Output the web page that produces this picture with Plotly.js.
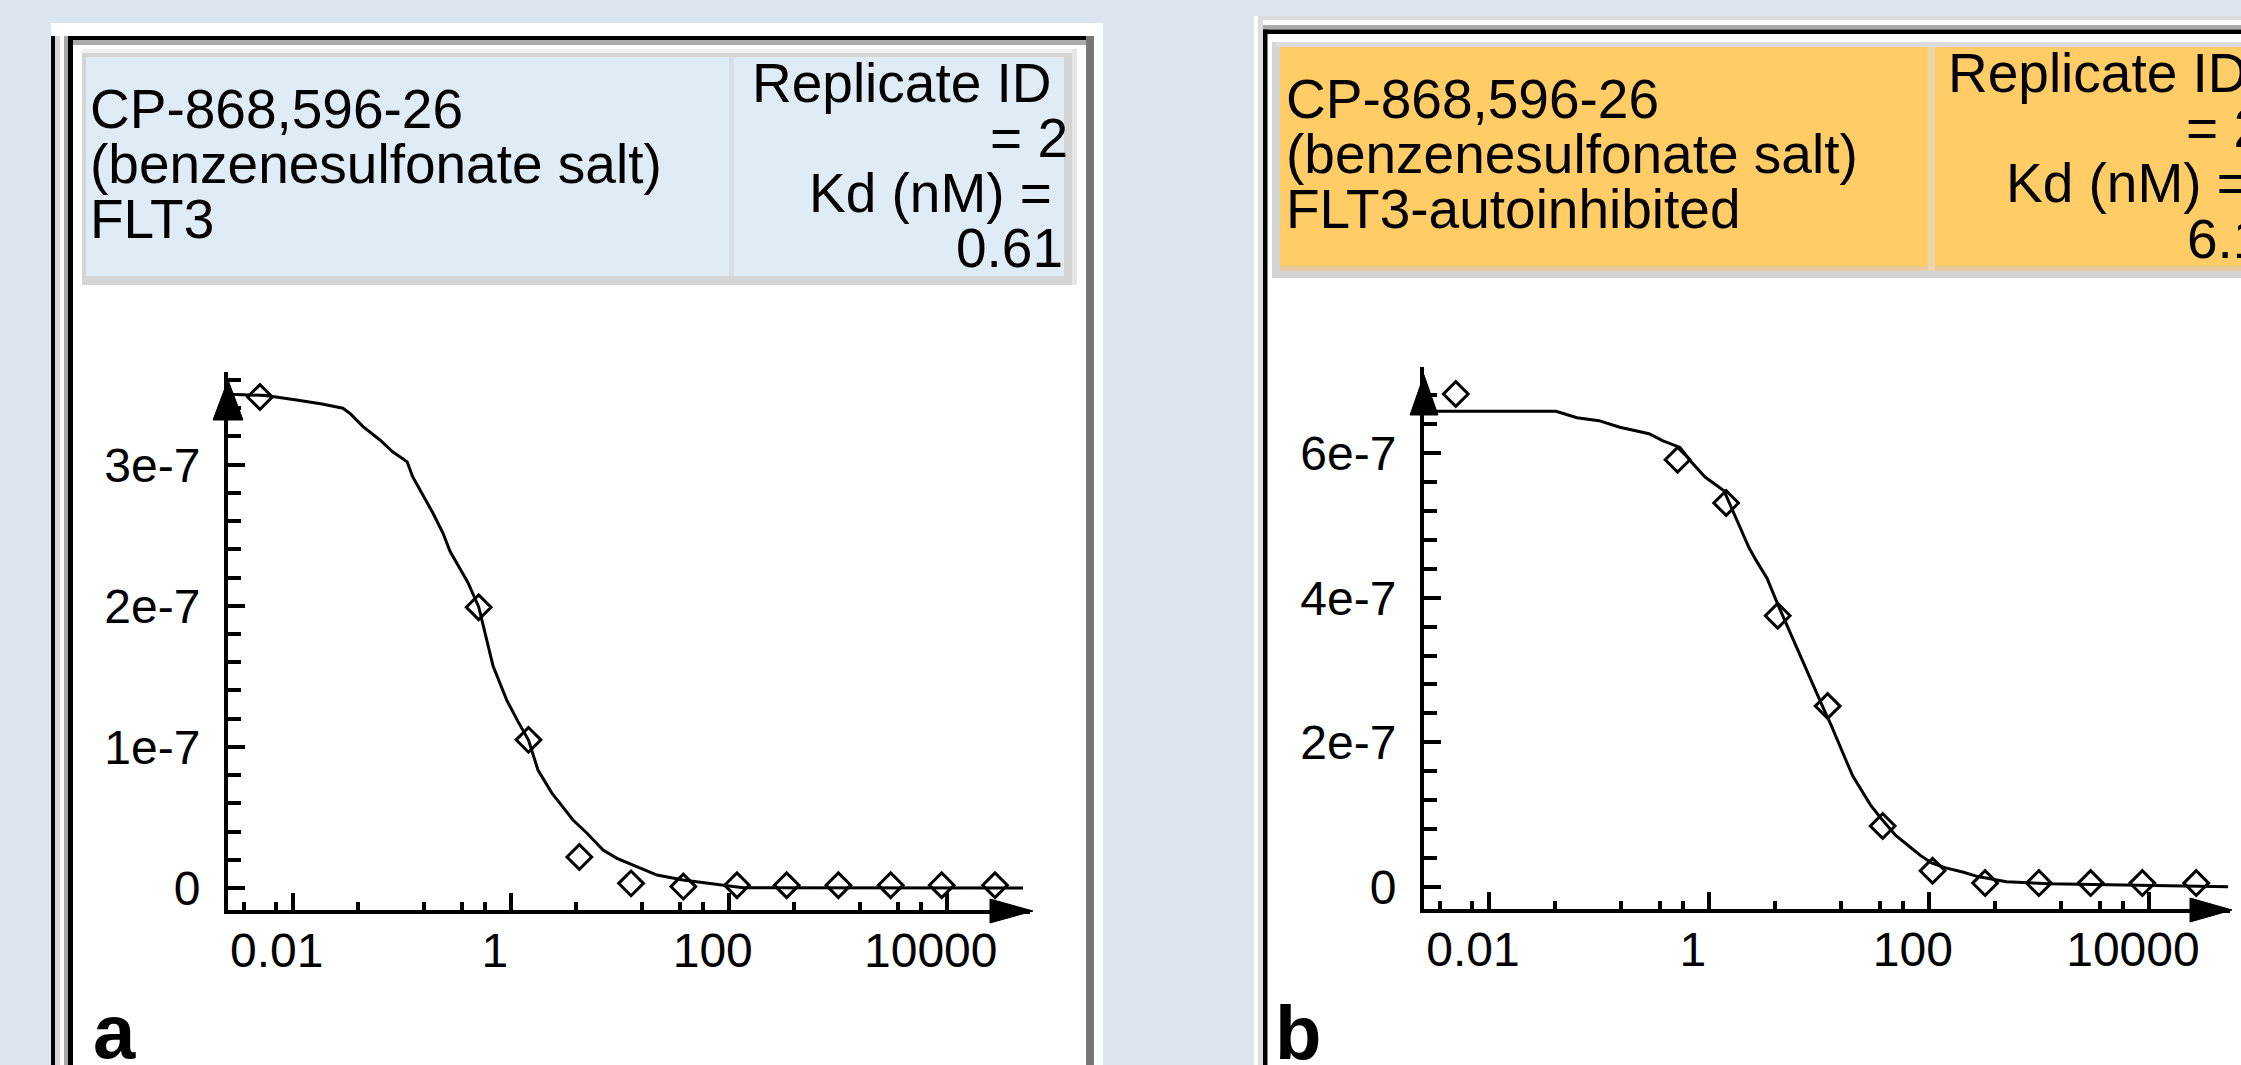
<!DOCTYPE html>
<html>
<head>
<meta charset="utf-8">
<script src="https://cdn.plot.ly/plotly-3.0.1.min.js"></script>
<style>
  html, body { margin: 0; padding: 0; background: #dce6f1; }
  #chart { width: 2241px; height: 1065px; }
</style>
</head>
<body>
<div id="chart"></div>
<script>
// ---------------- DATA ----------------
// Panel a : CP-868,596-26 (benzenesulfonate salt) vs FLT3
const a_titleLines = ["CP-868,596-26", "(benzenesulfonate salt)", "FLT3"];
const a_replicate = "2";
const a_kd = "0.61";
// measured points: concentration (nM) and signal
const a_pointConc = [0.005, 0.508, 1.455, 4.26, 12.7, 38.3, 119, 340, 1014, 3062, 8995, 27730];
const a_pointSignal = [3.48e-7, 1.99e-7, 1.05e-7, 0.22e-7, 0.033e-7, 0.01e-7, 0.02e-7, 0.02e-7, 0.02e-7, 0.02e-7, 0.02e-7, 0.02e-7];
// fitted curve as drawn (polyline vertices)
const a_curveConc = [0.00263, 0.00562, 0.01047, 0.01862, 0.02884, 0.03388, 0.04416, 0.0631, 0.0832, 0.1122,
  0.1259, 0.1567, 0.1936, 0.2393, 0.2773, 0.4055, 0.5082, 0.6887, 0.9247, 1.167,
  1.455, 1.778, 2.393, 2.831, 3.724, 5.012, 7.031, 9.441, 14.39, 21.98,
  38.02, 77.98, 135.2, 50120];
const a_curveSignal = [3.50e-7, 3.49e-7, 3.46e-7, 3.43e-7, 3.40e-7, 3.36e-7, 3.27e-7, 3.175e-7, 3.09e-7, 3.02e-7,
  2.915e-7, 2.785e-7, 2.656e-7, 2.514e-7, 2.386e-7, 2.164e-7, 1.992e-7, 1.573e-7, 1.327e-7, 1.179e-7,
  1.049e-7, 0.836e-7, 0.671e-7, 0.600e-7, 0.482e-7, 0.388e-7, 0.269e-7, 0.210e-7, 0.151e-7, 0.092e-7,
  0.057e-7, 0.028e-7, 0.002e-7, 0.0];
const a_yTickVals = [0, 1e-7, 2e-7, 3e-7];
const a_yTickText = ["0", "1e-7", "2e-7", "3e-7"];

// Panel b : CP-868,596-26 (benzenesulfonate salt) vs FLT3-autoinhibited
const b_titleLines = ["CP-868,596-26", "(benzenesulfonate salt)", "FLT3-autoinhibited"];
const b_replicate = "2";
const b_kd = "6.1";
const b_pointConc = [0.005, 0.519, 1.435, 4.22, 12.0, 38.0, 108, 324, 1000, 2951, 8710, 26900];
const b_pointSignal = [6.82e-7, 5.91e-7, 5.31e-7, 3.75e-7, 2.50e-7, 0.84e-7, 0.22e-7, 0.05e-7, 0.05e-7, 0.05e-7, 0.05e-7, 0.05e-7];
const b_curveConc = [0.002754, 0.04074, 0.0631, 0.1, 0.1549, 0.2851, 0.3828, 0.5458, 0.6871, 0.9226,
  1.371, 1.690, 2.000, 2.317, 2.679, 3.373, 4.246, 5.236, 6.592, 7.638,
  8.933, 11.12, 12.88, 15.07, 17.50, 20.32, 23.66, 29.51, 36.98, 49.89,
  67.30, 84.14, 105.4, 142.2, 206.5, 278.6, 507.0, 1245, 52480];
const b_curveSignal = [6.58e-7, 6.58e-7, 6.49e-7, 6.45e-7, 6.36e-7, 6.27e-7, 6.17e-7, 6.08e-7, 5.885e-7, 5.67e-7,
  5.48e-7, 5.17e-7, 4.93e-7, 4.69e-7, 4.52e-7, 4.27e-7, 3.90e-7, 3.58e-7, 3.24e-7, 3.00e-7,
  2.76e-7, 2.45e-7, 2.24e-7, 1.98e-7, 1.76e-7, 1.53e-7, 1.36e-7, 1.13e-7, 0.94e-7, 0.71e-7,
  0.55e-7, 0.43e-7, 0.33e-7, 0.26e-7, 0.20e-7, 0.14e-7, 0.07e-7, 0.04e-7, 0.0];
const b_yTickVals = [0, 2e-7, 4e-7, 6e-7];
const b_yTickText = ["0", "2e-7", "4e-7", "6e-7"];

// shared x axis (concentration, nM, log scale)
const xTickVals = [0.01, 1, 100, 10000];
const xTickText = ["0.01", "1", "100", "10000"];
const xMinorTickVals = [0.0036, 0.007, 0.04, 0.16, 0.36, 0.58, 4, 16, 36, 58, 400, 1600, 3600, 5800, 26000];

// ---------------- LAYOUT HELPERS ----------------
const W = 2241, H = 1065;
const FONT = "'Liberation Sans', Arial, sans-serif";
const fx = x => x / W;
const fy = y => 1 - y / H;
function rect(x0, y0, x1, y1, color) {
  return {type: 'rect', xref: 'paper', yref: 'paper', x0: fx(x0), x1: fx(x1), y0: fy(y1), y1: fy(y0),
          fillcolor: color, line: {width: 0}, layer: 'below'};
}
function tri(p, color) {
  const d = 'M ' + p.map(q => fx(q[0]) + ',' + fy(q[1])).join(' L ') + ' Z';
  return {type: 'path', xref: 'paper', yref: 'paper', path: d, fillcolor: color, line: {color: color, width: 1}, layer: 'above'};
}
function txt(x, y, text, anchor, size, bold) {
  return {xref: 'paper', yref: 'paper', x: fx(x), y: fy(y), text: bold ? '<b>' + text + '</b>' : text,
          showarrow: false, xanchor: anchor, yanchor: 'middle', borderpad: 0,
          font: {family: FONT, size: size, color: '#000'}};
}

const shapes = [
  // ----- panel a frame -----
  rect(51, 23, 1103, 1065, '#ffffff'),
  rect(51, 36, 55, 1065, '#000000'),
  rect(55, 36, 60, 1065, '#d6d6d6'),
  rect(64, 36, 68, 1065, '#a9a9a9'),
  rect(68, 36, 73, 1065, '#000000'),
  rect(68, 36, 1090, 40, '#000000'),
  rect(73, 40, 1086, 45, '#ababab'),
  rect(1086, 36, 1094, 1065, '#777777'),
  // header a
  rect(82, 49, 1077, 285, '#d4d4d4'),
  rect(82, 49, 1077, 53, '#efefef'),
  rect(1072, 49, 1077, 285, '#e6e6e6'),
  rect(86, 57, 1064, 276, '#dfebf5'),
  rect(729, 57, 734, 276, '#d8dee5'),
  // ----- panel b frame -----
  rect(1254, 16, 2241, 1065, '#ffffff'),
  rect(1258, 16, 2241, 20, '#dcdcdc'),
  rect(1258, 16, 1263, 1065, '#dcdcdc'),
  rect(1263, 25, 2241, 29.5, '#aaaaaa'),
  rect(1263, 29.5, 2241, 34, '#000000'),
  rect(1263, 29.5, 1267.5, 1065, '#000000'),
  // header b
  rect(1272, 42, 2241, 278, '#d4d4d4'),
  rect(1276, 42, 2241, 47, '#dcdcdc'),
  rect(1280, 47, 2241, 266, '#ffcc66'),
  rect(1280, 266, 2241, 271, '#e8caa0'),
  rect(1928, 47, 1935, 271, '#ead5ae'),
  // axis arrowheads
  tri([[228, 380], [213, 420], [243, 420]], '#000'),
  tri([[1033, 911], [990, 899], [990, 923]], '#000'),
  tri([[1424, 375], [1410, 415], [1438, 415]], '#000'),
  tri([[2232, 910], [2190, 898], [2190, 922]], '#000')
];

const HS = 55;          // header font size
const BL = 0.3465 * HS; // baseline -> box-centre offset
const annotations = [
  // panel a header
  txt(89, 128 - BL, a_titleLines[0], 'left', HS),
  txt(89, 183 - BL, a_titleLines[1], 'left', HS),
  txt(89, 238 - BL, a_titleLines[2], 'left', HS),
  txt(1053, 102 - BL, 'Replicate ID', 'right', HS),
  txt(1069, 157 - BL, '= ' + a_replicate, 'right', HS),
  txt(1053, 212 - BL, 'Kd (nM) =', 'right', HS),
  txt(1064, 267 - BL, a_kd, 'right', HS),
  // panel b header
  txt(1285, 118 - BL, b_titleLines[0], 'left', HS),
  txt(1285, 173 - BL, b_titleLines[1], 'left', HS),
  txt(1285, 228 - BL, b_titleLines[2], 'left', HS),
  txt(2249, 92 - BL, 'Replicate ID', 'right', HS),
  txt(2265, 147 - BL, '= ' + b_replicate, 'right', HS),
  txt(2250, 202 - BL, 'Kd (nM) =', 'right', HS),
  txt(2264, 258 - BL, b_kd, 'right', HS),
  // panel letters
  txt(92, 1058 - 27, 'a', 'left', 76, true),
  txt(1274, 1059 - 27, 'b', 'left', 76, true)
];

function xAxis(domain, range, anchor) {
  return {type: 'log', domain: domain, range: range, anchor: anchor,
    showline: true, linecolor: '#000', linewidth: 4, mirror: false,
    ticks: 'inside', ticklen: 17, tickwidth: 4, tickcolor: '#000',
    tickmode: 'array', tickvals: xTickVals, ticktext: xTickText,
    tickfont: {family: FONT, size: 48, color: '#000'},
    ticklabelshift: -16, ticklabelstandoff: -5,
    showgrid: false, zeroline: false, fixedrange: true,
    minor: {tickmode: 'array', tickvals: xMinorTickVals, ticks: 'inside', ticklen: 8, tickwidth: 4, tickcolor: '#000', showgrid: false}};
}
function yAxis(domain, range, anchor, tv, tt, minorStep) {
  return {domain: domain, range: range, anchor: anchor,
    showline: true, linecolor: '#000', linewidth: 4,
    ticks: 'inside', ticklen: 17, tickwidth: 4, tickcolor: '#000',
    tickmode: 'array', tickvals: tv, ticktext: tt,
    tickfont: {family: FONT, size: 48, color: '#000'},
    ticklabelstandoff: 14,
    showgrid: false, zeroline: false, fixedrange: true,
    minor: {tickmode: 'linear', tick0: 0, dtick: minorStep, ticks: 'inside', ticklen: 13, tickwidth: 4, tickcolor: '#000', showgrid: false}};
}

const lineStyle = {color: '#000', width: 3};
const markerStyle = {symbol: 'diamond-open', size: 19, color: '#000', line: {color: '#000', width: 3}};

const data = [
  {x: a_curveConc, y: a_curveSignal, xaxis: 'x', yaxis: 'y', mode: 'lines', line: lineStyle, hoverinfo: 'skip', cliponaxis: false},
  {x: a_pointConc, y: a_pointSignal, xaxis: 'x', yaxis: 'y', mode: 'markers', marker: markerStyle, hoverinfo: 'skip', cliponaxis: false},
  {x: b_curveConc, y: b_curveSignal, xaxis: 'x2', yaxis: 'y2', mode: 'lines', line: lineStyle, hoverinfo: 'skip', cliponaxis: false},
  {x: b_pointConc, y: b_pointSignal, xaxis: 'x2', yaxis: 'y2', mode: 'markers', marker: markerStyle, hoverinfo: 'skip', cliponaxis: false}
];

const layout = {
  width: W, height: H,
  margin: {l: 0, r: 0, t: 0, b: 0, pad: 0},
  paper_bgcolor: '#dce6f1',
  plot_bgcolor: 'rgba(0,0,0,0)',
  showlegend: false,
  hovermode: false,
  font: {family: FONT, color: '#000'},
  xaxis: xAxis([228 / W, 1030 / W], [-2.594, 4.764], 'y'),
  yaxis: yAxis([1 - 910 / H, 1 - 372 / H], [-1.559e-8, 3.657e-7], 'x', a_yTickVals, a_yTickText, 2e-8),
  xaxis2: xAxis([1424 / W, 2230 / W], [-2.59, 4.737], 'y2'),
  yaxis2: yAxis([1 - 909.3 / H, 1 - 367 / H], [-3.128e-8, 7.193e-7], 'x2', b_yTickVals, b_yTickText, 4e-8),
  shapes: shapes,
  annotations: annotations
};

Plotly.newPlot('chart', data, layout, {staticPlot: true, displayModeBar: false});
</script>
</body>
</html>
